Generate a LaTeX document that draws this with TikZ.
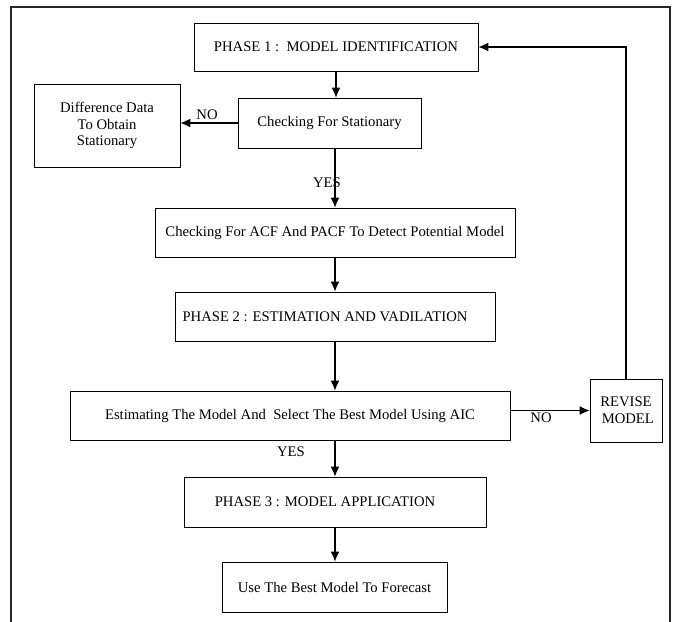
\documentclass[tikz,border=0pt]{standalone}
\usepackage{fontspec}
\setmainfont{Liberation Serif}
\usetikzlibrary{arrows.meta}

\tikzset{
  box/.style={draw, thin, black, inner sep=0pt, align=center, font=\fontsize{11}{12.5}\selectfont},
  flow/.style={draw, black, line width=0.9pt, -{Latex[length=7.5pt,width=6.5pt]}},
  tag/.style={font=\fontsize{11}{12.5}\selectfont}
}

\begin{document}
\begin{tikzpicture}[x=0.75pt, y=-0.75pt]
      \useasboundingbox (0,0) rectangle (674,621);

      \draw[line width=1.1pt, black!85] (11,625)--(11,7)--(670,7)--(670,625);

      \node[box, minimum width=213pt, minimum height=36pt] (phaseone) at (336,47) {PHASE 1 :\ \ MODEL IDENTIFICATION};
      \node[box, minimum width=109.5pt, minimum height=62.25pt] (diff) at (107,125.5) {Difference Data\\To Obtain\\Stationary};
      \node[box, minimum width=137.25pt, minimum height=37.5pt] (check) at (329.5,123) {Checking For Stationary};
      \node[box, minimum width=270pt, minimum height=36.75pt] (acf) at (335,232.5) {Checking For ACF And PACF To Detect Potential Model};
      \node[box, minimum width=240pt, minimum height=36.75pt] (phasetwo) at (335,316.5) {PHASE 2 : ESTIMATION AND VADILATION\hspace*{15pt}};
      \node[box, minimum width=330pt, minimum height=36.75pt] (estim) at (290,415.5) {Estimating The Model And\ \ Select The Best Model Using AIC};
      \node[box, minimum width=54pt, minimum height=47.25pt] (revise) at (626,410.5) {REVISE\\\ MODEL};
      \node[box, minimum width=226.5pt, minimum height=37.5pt] (phasethree) at (335,502) {PHASE 3 : MODEL APPLICATION\hspace*{15pt}};
      \node[box, minimum width=168.75pt, minimum height=37.5pt] (forecast) at (334.5,587) {Use The Best Model To Forecast};

      \draw[flow] (phaseone.south) -- (phaseone.south |- check.north);
      \draw[flow] (check.west) -- (diff.east |- check.west);
      \draw[flow] (check.south -| acf.north) -- (acf.north);
      \draw[flow] (acf.south) -- (acf.south |- phasetwo.north);
      \draw[flow] (phasetwo.south) -- (phasetwo.south |- estim.north);
      \draw[flow] (estim.east |- revise.west) -- (revise.west);
      \draw[flow] (revise.north) |- (phaseone.east);
      \draw[flow] (estim.south -| phasethree.north) -- (phasethree.north);
      \draw[flow] (phasethree.south) -- (phasethree.south |- forecast.north);

      \node[tag] (nodiff) at (207,115) {NO};
      \node[tag] (yesacf) at (327,183) {YES};
      \node[tag] (norev) at (541,418) {NO};
      \node[tag] (yesapp) at (291,452) {YES};
\end{tikzpicture}
\end{document}
